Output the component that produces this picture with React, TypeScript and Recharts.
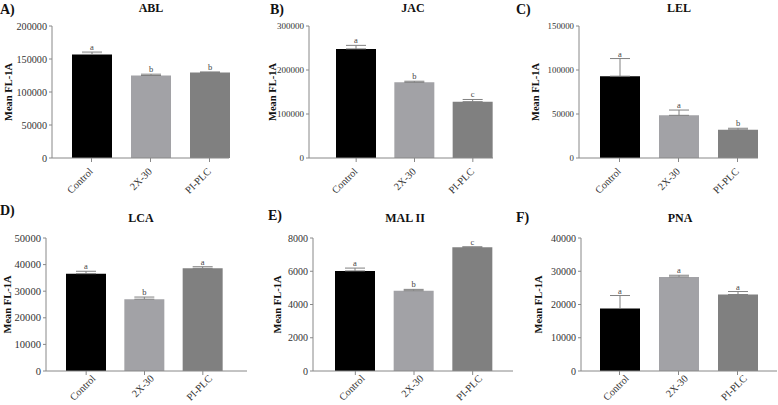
import React from "react";
import { BarChart, Bar, XAxis, YAxis, ErrorBar, LabelList, Cell } from "recharts";

const groups = ["Control", "2X-30", "PI-PLC"];

// mean FL-1A, upper SEM, significance letters per lectin
const ablMean = [157000, 125000, 129500];
const ablErr = [3500, 2000, 900];
const ablSig = ["a", "b", "b"];
const ablTicks = [0, 50000, 100000, 150000, 200000];

const jacMean = [248000, 172000, 128000];
const jacErr = [8000, 2500, 5000];
const jacSig = ["a", "b", "c"];
const jacTicks = [0, 100000, 200000, 300000];

const lelMean = [93000, 48500, 32000];
const lelErr = [20000, 6000, 1800];
const lelSig = ["a", "a", "b"];
const lelTicks = [0, 50000, 100000, 150000];

const lcaMean = [36600, 27000, 38600];
const lcaErr = [900, 800, 600];
const lcaSig = ["a", "b", "a"];
const lcaTicks = [0, 10000, 20000, 30000, 40000, 50000];

const malMean = [6020, 4830, 7440];
const malErr = [170, 80, 30];
const malSig = ["a", "b", "c"];
const malTicks = [0, 2000, 4000, 6000, 8000];

const pnaMean = [18800, 28300, 23000];
const pnaErr = [3900, 500, 900];
const pnaSig = ["a", "a", "a"];
const pnaTicks = [0, 10000, 20000, 30000, 40000];

const panels = [
  { tag: "A)", title: "ABL", mean: ablMean, err: ablErr, sig: ablSig, ticks: ablTicks },
  { tag: "B)", title: "JAC", mean: jacMean, err: jacErr, sig: jacSig, ticks: jacTicks },
  { tag: "C)", title: "LEL", mean: lelMean, err: lelErr, sig: lelSig, ticks: lelTicks },
  { tag: "D)", title: "LCA", mean: lcaMean, err: lcaErr, sig: lcaSig, ticks: lcaTicks },
  { tag: "E)", title: "MAL II", mean: malMean, err: malErr, sig: malSig, ticks: malTicks },
  { tag: "F)", title: "PNA", mean: pnaMean, err: pnaErr, sig: pnaSig, ticks: pnaTicks },
];

// where each panel sits on the page
const layout = [
  { axisX: 52, top: 26, bottom: 158, right: 229, padL: 10, padR: -10, labelX: 8, tagX: 0, tagY: 14, titleX: 151, titleY: 12, tickFont: 10.2, lx: -3, ly: 9 },
  { axisX: 309, top: 26, bottom: 158, right: 493, padL: 18, padR: -9, labelX: 272, tagX: 270, tagY: 14, titleX: 413, titleY: 12, tickFont: 9, lx: -3, ly: 9 },
  { axisX: 579, top: 26, bottom: 158, right: 758, padL: 11, padR: -9, labelX: 535, tagX: 516, tagY: 14, titleX: 679, titleY: 12, tickFont: 8.8, lx: -3, ly: 9 },
  { axisX: 46, top: 238, bottom: 371, right: 247, padL: 11, padR: 15, labelX: 7, tagX: 0, tagY: 215, titleX: 141, titleY: 222, tickFont: 10.6, lx: 5, ly: 3 },
  { axisX: 313, top: 238, bottom: 371, right: 513, padL: 13, padR: 11, labelX: 277, tagX: 268, tagY: 220, titleX: 405, titleY: 222, tickFont: 10, lx: 5, ly: 3 },
  { axisX: 581, top: 238, bottom: 371, right: 777, padL: 9, padR: 10, labelX: 538, tagX: 516, tagY: 222, titleX: 680, titleY: 222, tickFont: 10, lx: 5, ly: 3 },
];

const W = 778;
const H = 405;
const SERIF = "'Liberation Serif', 'Times New Roman', serif";
const barColors = ["#000000", "#a2a2a6", "#808080"];
const Y_W = 40;
const X_H = 30;
const X_TICK = 4;
const X_MARGIN = 2;

const makeXTick = (dx: number, dy: number) => (props: any) => {
  const { x, y, payload } = props;
  const ax = x + dx;
  const ay = y - X_TICK - X_MARGIN + dy;
  return (
    <text
      x={ax}
      y={ay}
      transform={`rotate(-45, ${ax}, ${ay})`}
      textAnchor="end"
      dominantBaseline="hanging"
      fontSize={10.3}
      fontFamily={SERIF}
      fill="#333"
    >
      {payload.value}
    </text>
  );
};

const makeYTick = (size: number) => (props: any) => {
  const { x, y, payload } = props;
  return (
    <text
      x={x}
      y={y}
      textAnchor="end"
      dominantBaseline="central"
      fontSize={size}
      fontFamily={SERIF}
      fill="#333"
    >
      {payload.value}
    </text>
  );
};

function Panel({ p, l }: { p: (typeof panels)[number]; l: (typeof layout)[number] }) {
  const data = groups.map((g, i) => ({
    group: g,
    mean: p.mean[i],
    range: [0, p.err[i]],
    sig: p.sig[i],
  }));
  const max = p.ticks[p.ticks.length - 1];
  const YTick = makeYTick(l.tickFont);
  const XTick = makeXTick(l.lx, l.ly);

  const sigLabel = (props: any) => {
    const { x, y, width, height, index } = props;
    const d = data[index];
    const errPx = (d.range[1] * height) / d.mean;
    return (
      <text
        x={x + width / 2}
        y={y - errPx - 2}
        textAnchor="middle"
        fontSize={8.5}
        fontFamily={SERIF}
        fill="#444"
      >
        {d.sig}
      </text>
    );
  };

  return (
    <div style={{ position: "absolute", left: 0, top: 0 }}>
      <BarChart
        width={W}
        height={H}
        data={data}
        margin={{ top: l.top, left: l.axisX - Y_W, right: W - l.right, bottom: H - l.bottom - X_H }}
      >
        <XAxis
          dataKey="group"
          height={X_H}
          interval={0}
          tickSize={X_TICK}
          tickMargin={X_MARGIN}
          stroke="#888"
          padding={{ left: l.padL, right: l.padR }}
          tick={<XTick />}
        />
        <YAxis
          width={Y_W}
          domain={[0, max]}
          ticks={p.ticks}
          tickSize={3}
          tickMargin={2}
          stroke="#888"
          tick={<YTick />}
        />
        <Bar dataKey="mean" barSize={40} isAnimationActive={false}>
          {data.map((d, i) => (
            <Cell key={d.group} fill={barColors[i]} />
          ))}
          <ErrorBar dataKey="range" width={10} stroke="#808080" strokeWidth={1} direction="y" />
          <LabelList dataKey="sig" content={sigLabel} />
        </Bar>
      </BarChart>
    </div>
  );
}

export default function App() {
  return (
    <div style={{ position: "absolute", left: 0, top: 0, width: W, height: H, background: "#fff", overflow: "hidden" }}>
      {panels.map((p, i) => (
        <Panel key={p.title} p={p} l={layout[i]} />
      ))}
      <svg width={W} height={H} style={{ position: "absolute", left: 0, top: 0 }}>
        {panels.map((p, i) => {
          const l = layout[i];
          const cy = (l.top + l.bottom) / 2;
          return (
            <g key={p.tag} fill="#111">
              <text x={l.tagX} y={l.tagY} fontSize={14} fontWeight="bold" fontFamily={SERIF}>
                {p.tag}
              </text>
              <text x={l.titleX} y={l.titleY} fontSize={12} fontWeight="bold" fontFamily={SERIF} textAnchor="middle">
                {p.title}
              </text>
              <text
                x={l.labelX}
                y={cy}
                fontSize={10.5}
                fontWeight="bold"
                fontFamily={SERIF}
                textAnchor="middle"
                dominantBaseline="central"
                transform={`rotate(-90, ${l.labelX}, ${cy})`}
              >
                Mean FL-1A
              </text>
            </g>
          );
        })}
      </svg>
    </div>
  );
}
